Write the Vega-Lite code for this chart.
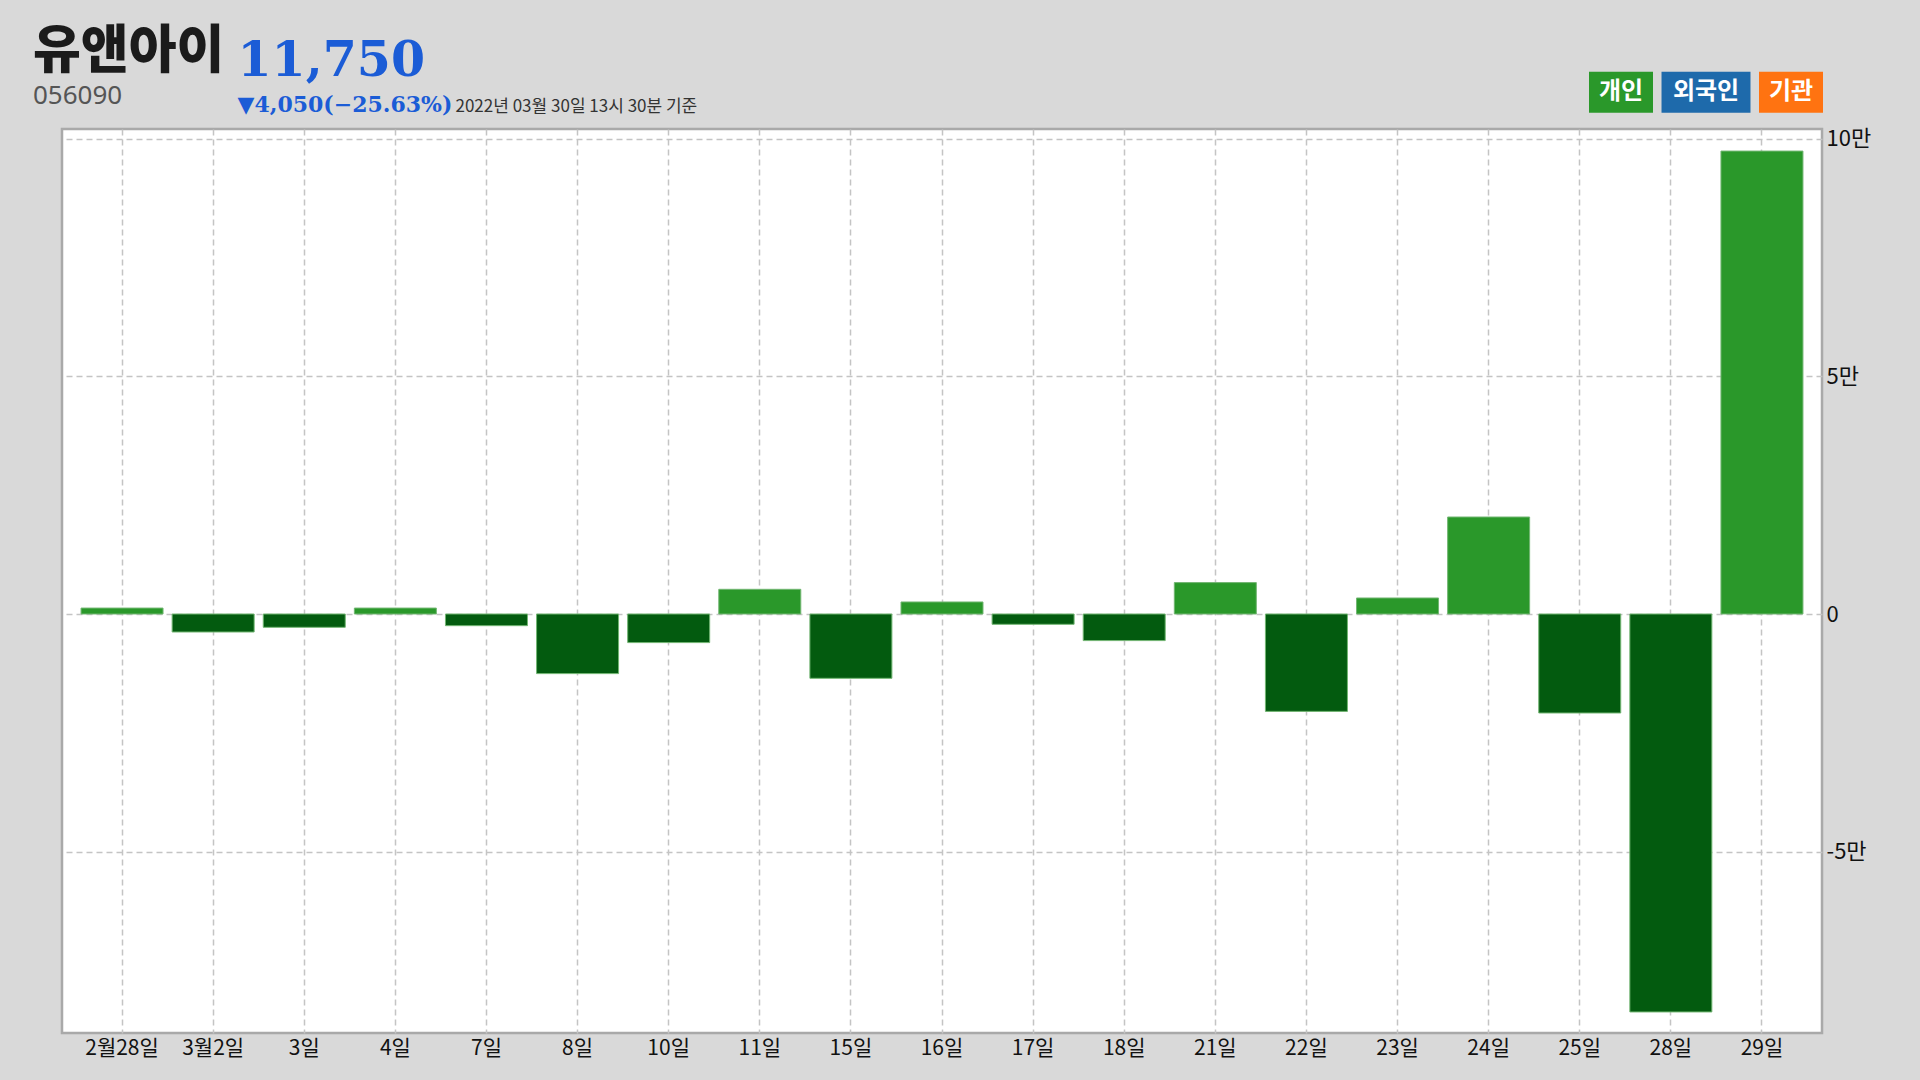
{
  "$schema": "https://vega.github.io/schema/vega-lite/v6.json",
  "width": 1760,
  "height": 904,
  "autosize": {"type": "none"},
  "padding": {"left": 62, "top": 129, "right": 98, "bottom": 47},
  "background": "#d9d9d9",
  "view": {"fill": "#ffffff", "stroke": "#a9a9a9", "strokeWidth": 2.5},
  "title": {
    "text": "유앤아이",
    "subtitle": "056090",
    "anchor": "start",
    "frame": "group",
    "dx": -29,
    "dy": 74,
    "font": "Noto Sans CJK KR",
    "fontSize": 52,
    "fontWeight": 900,
    "color": "#1b1b1b",
    "subtitleFont": "Noto Sans",
    "subtitleFontSize": 26,
    "subtitleColor": "#555555",
    "subtitlePadding": 4,
    "offset": 0
  },
  "config": {
    "axis": {"labelFont": "Noto Sans CJK KR", "titleFont": "Noto Sans CJK KR", "labelColor": "#111111"}
  },
  "datasets": {
    "flows": [
      {"date": "2월28일", "value": 1250},
      {"date": "3월2일", "value": -3790},
      {"date": "3일", "value": -2800},
      {"date": "4일", "value": 1250},
      {"date": "7일", "value": -2460},
      {"date": "8일", "value": -12550},
      {"date": "10일", "value": -6020},
      {"date": "11일", "value": 5200},
      {"date": "15일", "value": -13540},
      {"date": "16일", "value": 2530},
      {"date": "17일", "value": -2170},
      {"date": "18일", "value": -5600},
      {"date": "21일", "value": 6610},
      {"date": "22일", "value": -20500},
      {"date": "23일", "value": 3370},
      {"date": "24일", "value": 20420},
      {"date": "25일", "value": -20840},
      {"date": "28일", "value": -83780},
      {"date": "29일", "value": 97460}
    ],
    "investors": [
      {"investor": "개인"},
      {"investor": "외국인"},
      {"investor": "기관"}
    ]
  },
  "resolve": {"axis": {"x": "independent", "y": "independent"}},
  "layer": [
    {
      "data": {"name": "flows"},
      "mark": {"type": "bar", "stroke": "#72b672", "strokeWidth": 1},
      "encoding": {
        "x": {
          "field": "date",
          "type": "nominal",
          "sort": null,
          "scale": {"paddingInner": 0.1, "paddingOuter": 0.209},
          "axis": {
            "orient": "bottom",
            "labelAngle": 0,
            "labelFontSize": 21,
            "labelPadding": 4,
            "ticks": false,
            "domain": false,
            "grid": true,
            "gridColor": "#c4c4c4",
            "gridDash": [6, 4],
            "gridWidth": 1.5,
            "title": "2022년 03월 30일 13시 30분 기준",
            "titleFont": "Noto Sans CJK KR",
            "titleFontSize": 17,
            "titleFontWeight": "normal",
            "titleColor": "#333333",
            "titleAnchor": "start",
            "titleAlign": "left",
            "titleBaseline": "alphabetic",
            "titleX": 393,
            "titleY": -922
          }
        },
        "y": {
          "field": "value",
          "type": "quantitative",
          "scale": {"domain": [-88210, 102105], "nice": false, "zero": false},
          "axis": {
            "orient": "right",
            "values": [-50000, 0, 50000, 100000],
            "labelExpr": "datum.value == 0 ? '0' : (datum.value / 10000) + '만'",
            "labelFontSize": 22,
            "labelPadding": 4,
            "ticks": false,
            "domain": false,
            "grid": true,
            "gridColor": "#c4c4c4",
            "gridDash": [6, 4],
            "gridWidth": 1.5,
            "title": "▼4,050(−25.63%)",
            "titleFont": "DejaVu Serif",
            "titleFontSize": 22,
            "titleFontWeight": "bold",
            "titleColor": "#1b5cd6",
            "titleAngle": 0,
            "titleAlign": "left",
            "titleBaseline": "alphabetic",
            "titleX": -1585,
            "titleY": -18
          }
        },
        "fill": {
          "condition": {"test": "datum.value < 0", "value": "#035b0f"},
          "value": "#2a982a"
        }
      }
    },
    {
      "mark": {"type": "rule", "color": "#ff0000", "strokeWidth": 3, "strokeDash": [5, 4.5]},
      "encoding": {"y": {"datum": 0, "type": "quantitative", "axis": null}}
    },
    {
      "data": {"name": "flows"},
      "mark": {"type": "point", "size": 0, "strokeWidth": 0},
      "encoding": {
        "x": {
          "field": "date",
          "type": "nominal",
          "sort": null,
          "axis": {
            "orient": "top",
            "labels": false,
            "ticks": false,
            "domain": false,
            "grid": false,
            "title": "11,750",
            "titleFont": "DejaVu Serif",
            "titleFontSize": 49,
            "titleFontWeight": "bold",
            "titleColor": "#1b5cd6",
            "titleAnchor": "start",
            "titleAlign": "left",
            "titleBaseline": "alphabetic",
            "titleX": 175,
            "titleY": -54
          }
        }
      }
    },
    {
      "data": {"name": "investors"},
      "mark": {"type": "point", "filled": true, "opacity": 1, "size": 0, "strokeWidth": 0},
      "encoding": {
        "color": {
          "field": "investor",
          "type": "nominal",
          "scale": {"domain": ["개인", "외국인", "기관"], "range": ["#2a982a", "#1e6aab", "#ff7311"]},
          "legend": {
            "orient": "none",
            "legendX": 1527,
            "legendY": -69,
            "direction": "horizontal",
            "title": null,
            "padding": 0,
            "symbolSize": 4096,
            "symbolOpacity": 1,
            "symbolStrokeWidth": 0,
            "labelColor": "#ffffff",
            "labelFont": "Noto Sans CJK KR",
            "labelFontSize": 24,
            "labelFontWeight": "bold",
            "labelAlign": "center",
            "labelOffset": -32,
            "columnPadding": 8
          }
        },
        "shape": {
          "field": "investor",
          "type": "nominal",
          "scale": {
            "domain": ["개인", "외국인", "기관"],
            "range": ["M-1,-0.64H1V0.64H-1Z", "M-1.39,-0.64H1.39V0.64H-1.39Z", "M-1,-0.64H1V0.64H-1Z"]
          }
        }
      }
    }
  ]
}
